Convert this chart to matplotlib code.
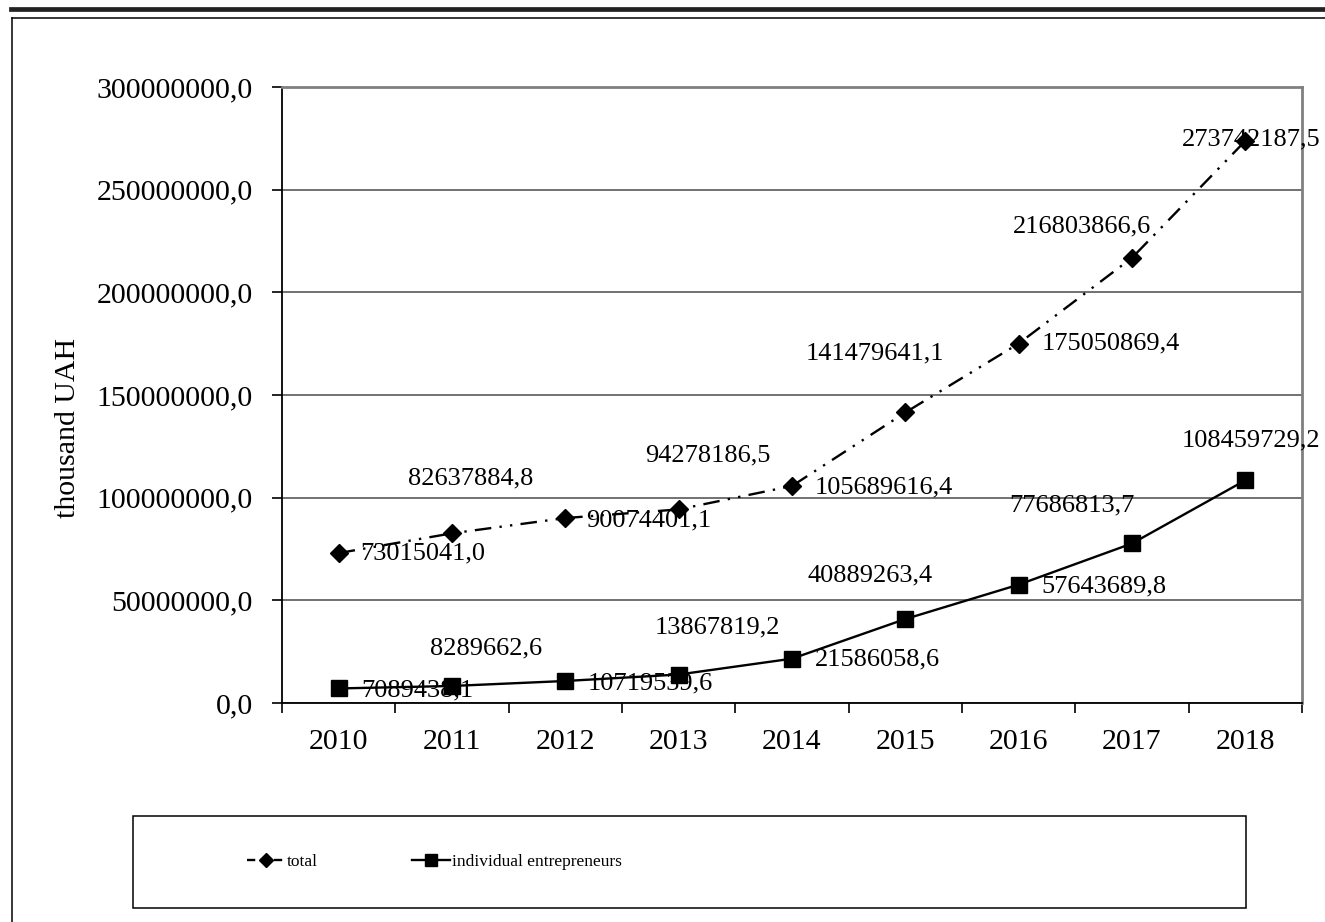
import matplotlib.pyplot as plt
from matplotlib.lines import Line2D
from matplotlib.patches import Rectangle

plt.rcParams['font.family'] = ['Liberation Serif', 'DejaVu Serif']

years = ["2010", "2011", "2012", "2013", "2014", "2015", "2016", "2017", "2018"]
total = [73015041.0, 82637884.8, 90074401.1, 94278186.5, 105689616.4,
         141479641.1, 175050869.4, 216803866.6, 273742187.5]
individual = [7089438.1, 8289662.6, 10719539.6, 13867819.2, 21586058.6,
              40889263.4, 57643689.8, 77686813.7, 108459729.2]
y_ticks = [0, 50000000, 100000000, 150000000, 200000000, 250000000, 300000000]

# where each value label sits relative to its marker (pixels, ha)
total_lbl = [(22, 0, "left"), (19, 55, "center"), (21, -2, "left"),
             (29, 54, "center"), (23, -1, "left"), (-30, 59, "center"),
             (23, 0, "left"), (-50, 31, "center"), (6, 1, "center")]
indiv_lbl = [(23, -2, "left"), (34, 38, "center"), (22, -2, "left"),
             (39, 47, "center"), (23, -1, "left"), (-35, 44, "center"),
             (23, -2, "left"), (-60, 38, "center"), (6, 40, "center")]

W, H = 1325, 922
fig = plt.figure(figsize=(W / 100, H / 100), dpi=100)


def fx(px):
    return px / W


def fy(py):
    return 1 - py / H


ax = fig.add_axes([fx(282), fy(703), fx(1302) - fx(282), fy(87) - fy(703)])
x = list(range(len(years)))

dash_dot_dot = (0, (7, 3.5, 1, 3.5, 1, 3.5))
ax.plot(x, total, color="black", lw=1.7, linestyle=dash_dot_dot,
        marker="D", markersize=9, zorder=3)
ax.plot(x, individual, color="black", lw=1.7, marker="s", markersize=11,
        zorder=3)


def fmt(v):
    return f"{v:.1f}".replace(".", ",")


for i in x:
    dx, dy, ha = total_lbl[i]
    ax.annotate(fmt(total[i]), (i, total[i]), xytext=(dx, dy),
                textcoords="offset pixels", ha=ha, va="center", fontsize=19)
    dx, dy, ha = indiv_lbl[i]
    ax.annotate(fmt(individual[i]), (i, individual[i]), xytext=(dx, dy),
                textcoords="offset pixels", ha=ha, va="center", fontsize=19)

ax.set_xlim(-0.5, len(years) - 0.5)
ax.set_ylim(0, 300000000)
ax.set_xticks(x)
ax.set_xticklabels(years, fontsize=21.5)
ax.set_xticks([i - 0.5 for i in range(len(years) + 1)], minor=True)
ax.tick_params(axis="x", which="major", length=0, pad=18.5)
ax.tick_params(axis="x", which="minor", length=7, width=1.2, direction="out")
ax.set_yticks(y_ticks)
ax.set_yticklabels([fmt(v) for v in y_ticks], fontsize=21.5)
ax.tick_params(axis="y", length=7, width=1.2, pad=14)

ax.grid(axis="y", color="#666666", lw=1.3)
ax.set_axisbelow(True)
for side in ("left", "bottom"):
    ax.spines[side].set_color("black")
    ax.spines[side].set_linewidth(1.3)
for side in ("top", "right"):
    ax.spines[side].set_color("#808080")
    ax.spines[side].set_linewidth(2)

fig.text(fx(68), fy(428), "thousand UAH", rotation=90, ha="center",
         va="center", fontsize=21.5)

# page decoration: heavy rule and outer frame
fig.add_artist(Line2D([fx(11), 1], [fy(9.5), fy(9.5)], color="#222222", lw=3.4))
fig.add_artist(Line2D([fx(12), 1], [fy(18), fy(18)], color="black", lw=1.1))
fig.add_artist(Line2D([fx(12), fx(12)], [fy(18), 0], color="black", lw=1.1))

# legend box with its two entries
fig.add_artist(Rectangle((fx(133), fy(908)), fx(1246) - fx(133), fy(816) - fy(908),
                         transform=fig.transFigure, fill=False,
                         edgecolor="black", lw=1.1))
handles = [
    Line2D([], [], color="black", lw=1.7, linestyle=(0, (3.5, 2.2)),
           marker="D", markersize=7.5),
    Line2D([], [], color="black", lw=1.7, marker="s", markersize=9),
]
fig.legend(handles, ["total", "individual entrepreneurs"],
           loc="center left", bbox_to_anchor=(fx(247), fy(862)),
           bbox_transform=fig.transFigure, ncol=2, frameon=False,
           fontsize=12.5, borderpad=0, borderaxespad=0, handlelength=2.2,
           handletextpad=0.1, columnspacing=5.4)

fig.savefig("out.png", dpi=100)
